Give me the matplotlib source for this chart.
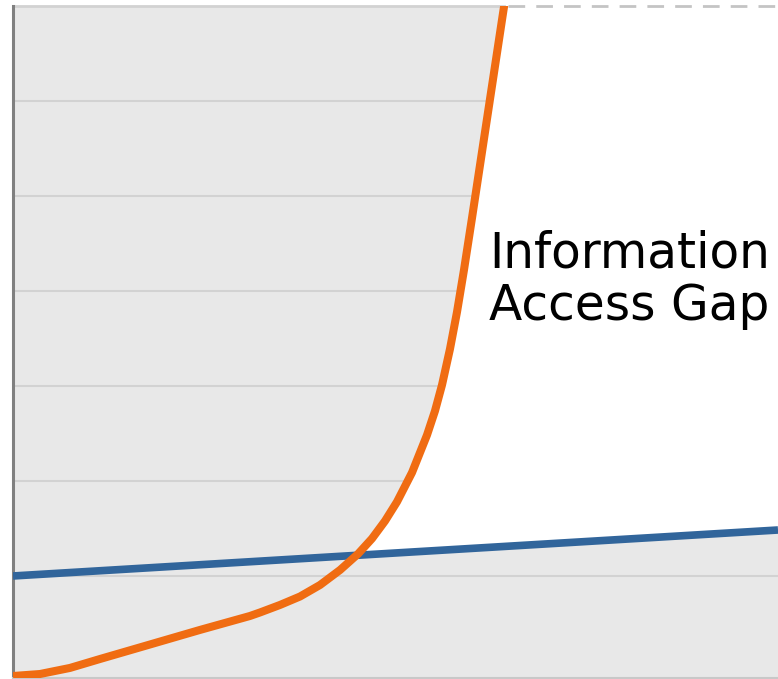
import numpy as np
import matplotlib
matplotlib.use('Agg')
import matplotlib.pyplot as plt

# orange curve
orange_x = [0, 3.53, 7.45, 11.37, 17.91, 24.44, 30.98, 32.29, 34.90, 37.52, 40.13,
            42.75, 45.10, 46.93, 48.63, 50.20, 52.16, 54.12, 55.16, 56.08, 57.12,
            58.04, 58.95, 60.00, 61.96, 64.05, 65.10]
orange_y = [-0.053, -0.032, 0.032, 0.126, 0.279, 0.432, 0.579, 0.616, 0.695, 0.784, 0.905,
            1.063, 1.232, 1.394, 1.579, 1.781, 2.089, 2.484, 2.737, 3.011, 3.389,
            3.779, 4.221, 4.768, 5.811, 6.922, 7.459]

# blue line
blue_x = [0, 100]
blue_y = [1.0, 1.484]

label_lines = ['Information', 'Access Gap']

y_top = 7.0
y_bot = -0.074
grid_vals = [1, 2, 3, 4, 5, 6]

W, H = 778, 679
fig = plt.figure(figsize=(W / 100, H / 100), dpi=100)
ax = fig.add_axes([13 / W, 1 / H, (W - 13) / W, 672 / H])
ax.set_facecolor('#e8e8e8')
ax.set_xlim(0, 100)
ax.set_ylim(y_bot, y_top)

# white gap region between blue line and orange curve
xs = np.linspace(0, 100, 3000)
oi = np.interp(xs, orange_x, orange_y)
bi = np.interp(xs, blue_x, blue_y)
upper = np.minimum(oi, y_top + 0.05)
ax.fill_between(xs, bi, upper, where=upper > bi, color='white', lw=0, zorder=1)

for g in grid_vals:
    ax.axhline(g, color='#d2d2d2', lw=1.5, zorder=0.5)

# top border: solid over the gray, dashed over the gap
x_hit = np.interp(y_top, orange_y, orange_x)
ax.plot([0, x_hit], [y_top - 0.005, y_top - 0.005], color='#d2d2d2', lw=2, zorder=2, clip_on=False)
ax.plot([x_hit + 0.5, 100], [y_top - 0.005, y_top - 0.005], color='#c4c4c4', lw=2,
        dashes=(6, 4), zorder=2, clip_on=False)

ax.plot(blue_x, blue_y, color='#31659b', lw=5.5, solid_capstyle='butt', zorder=3)
ax.plot(orange_x, orange_y, color='#f06c12', lw=5.8, solid_capstyle='butt',
        solid_joinstyle='round', zorder=4)

ax.text(62.2, 4.25, label_lines[0], fontsize=35, family='DejaVu Sans', va='baseline', zorder=5)
ax.text(62.2, 3.69, label_lines[1], fontsize=35, family='DejaVu Sans', va='baseline', zorder=5)

for s in ['top', 'right']:
    ax.spines[s].set_visible(False)
ax.spines['left'].set_color('#808080')
ax.spines['left'].set_linewidth(2.2)
ax.spines['bottom'].set_color('#c8c8c8')
ax.spines['bottom'].set_linewidth(1.5)
ax.set_xticks([])
ax.set_yticks([])

fig.savefig('out.png', dpi=100)
